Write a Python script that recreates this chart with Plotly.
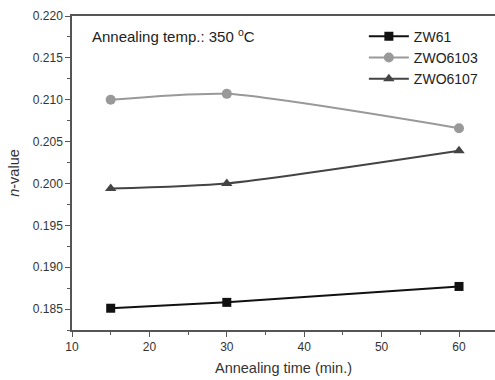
import plotly.graph_objects as go

times = [15, 30, 60]
zw61 = [0.1851, 0.1858, 0.1877]
zwo6103 = [0.2100, 0.2107, 0.2066]
zwo6107 = [0.1994, 0.2000, 0.2039]
xticks = [10, 20, 30, 40, 50, 60]
yticks = [0.185, 0.190, 0.195, 0.200, 0.205, 0.210, 0.215, 0.220]

FONT = "Liberation Sans, Arial"
fig = go.Figure()
series = [
    ("ZW61", zw61, "#111111", "square", 9),
    ("ZWO6103", zwo6103, "#999999", "circle", 10),
    ("ZWO6107", zwo6107, "#444444", "triangle-up", 10),
]
for name, vals, col, sym, ms in series:
    fig.add_trace(go.Scatter(
        x=times, y=vals, name=name, mode="lines+markers",
        line=dict(color=col, width=2, shape="spline", smoothing=0.6),
        marker=dict(color=col, symbol=sym, size=ms),
    ))

axis_common = dict(
    showline=True, linecolor="#555555", linewidth=1.5,
    ticks="outside", ticklen=5, tickcolor="#555555", showgrid=False,
    zeroline=False, automargin=False,
    tickfont=dict(family=FONT, size=12, color="#333333"),
    minor=dict(ticks="outside", ticklen=3, tickcolor="#555555"),
)
fig.update_xaxes(range=[10, 64.65], tickvals=xticks, ticktext=[str(v) for v in xticks], mirror=True,
                 title=dict(text="Annealing time (min.)", font=dict(family=FONT, size=14.5, color="#333333"), standoff=10),
                 minor_dtick=5, **axis_common)
fig.update_yaxes(range=[0.1825, 0.220], tickvals=yticks, ticktext=[f"{v:.3f}" for v in yticks], mirror=False,
                 title=dict(text="<i>n</i>-value", font=dict(family=FONT, size=14.5, color="#333333"), standoff=10),
                 minor_dtick=0.0025, **axis_common)

fig.add_annotation(x=0.042, y=0.975, xref="paper", yref="paper", xanchor="left", yanchor="top",
                   text="Annealing temp.: 350 <sup>o</sup>C", showarrow=False,
                   font=dict(family=FONT, size=15, color="#222222"))

fig.update_layout(
    width=495, height=380,
    margin=dict(l=72, r=0, t=16, b=50),
    plot_bgcolor="white", paper_bgcolor="white",
    legend=dict(x=0.69, y=0.985, xanchor="left", yanchor="top", bgcolor="rgba(0,0,0,0)",
                font=dict(family=FONT, size=14, color="#222222"),
                tracegroupgap=0, itemwidth=40),
    showlegend=True,
)
fig.write_html("out.html", config={"displayModeBar": False},
               post_script="document.body.style.margin='0';document.body.style.overflow='hidden';")
